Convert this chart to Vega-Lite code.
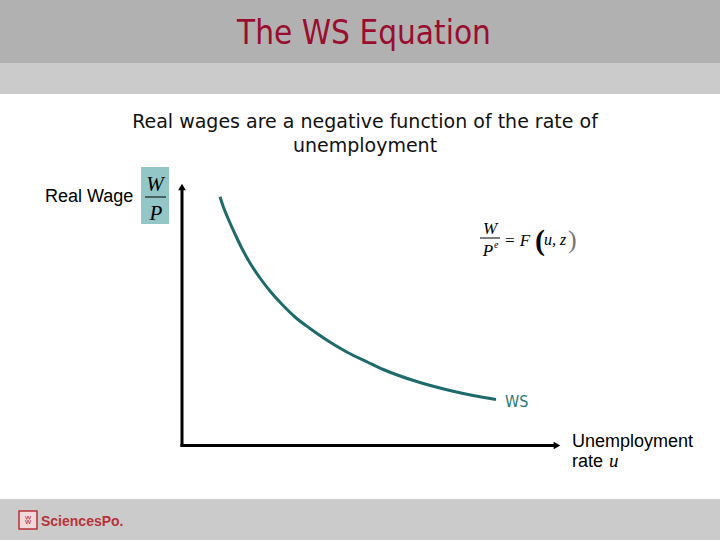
{
  "$schema": "https://vega.github.io/schema/vega-lite/v6.json",
  "width": 720,
  "height": 540,
  "padding": 0,
  "autosize": {"type": "fit", "contains": "padding"},
  "background": "white",
  "config": {"view": {"stroke": null}, "axis": {"disable": true}},
  "data": {"values": [
    {"u": 220, "w": 196.7}, {"u": 223.3, "w": 206.7}, {"u": 228.3, "w": 219},
    {"u": 235, "w": 234}, {"u": 241.7, "w": 248}, {"u": 250, "w": 263},
    {"u": 260, "w": 278}, {"u": 270, "w": 291}, {"u": 281.7, "w": 304},
    {"u": 295, "w": 317}, {"u": 310, "w": 328.5}, {"u": 326.7, "w": 340},
    {"u": 346.7, "w": 352}, {"u": 368.3, "w": 362.5}, {"u": 383.3, "w": 369.5},
    {"u": 416.7, "w": 381.5}, {"u": 450, "w": 390.5}, {"u": 473, "w": 395.5},
    {"u": 496, "w": 399.5}
  ]},
  "layer": [
    {
      "data": {"values": [{}]},
      "mark": {"type": "rect", "fill": "#b1b1b1"},
      "encoding": {
        "x": {"datum": 0, "type": "quantitative", "scale": {"domain": [0, 720], "nice": false, "zero": false}, "axis": null},
        "x2": {"datum": 720},
        "y": {"datum": 0, "type": "quantitative", "scale": {"domain": [0, 540], "nice": false, "zero": false, "reverse": true}, "axis": null},
        "y2": {"datum": 63}
      }
    },
    {
      "data": {"values": [{}]},
      "mark": {"type": "rect", "fill": "#cbcbcb"},
      "encoding": {
        "x": {"datum": 0, "type": "quantitative"}, "x2": {"datum": 720},
        "y": {"datum": 63, "type": "quantitative"}, "y2": {"datum": 94}
      }
    },
    {
      "data": {"values": [{}]},
      "mark": {"type": "rect", "fill": "#cbcbcb"},
      "encoding": {
        "x": {"datum": 0, "type": "quantitative"}, "x2": {"datum": 720},
        "y": {"datum": 499, "type": "quantitative"}, "y2": {"datum": 540}
      }
    },
    {
      "data": {"values": [{}]},
      "mark": {"type": "text", "text": "The WS Equation", "font": "DejaVu Sans Condensed", "fontSize": 33, "fill": "#9b0d2f", "align": "center", "baseline": "alphabetic"},
      "encoding": {"x": {"datum": 364, "type": "quantitative"}, "y": {"datum": 44, "type": "quantitative"}}
    },
    {
      "data": {"values": [{}]},
      "mark": {"type": "text", "text": "Real wages are a negative function of the rate of", "font": "DejaVu Sans", "fontSize": 19, "fill": "#111111", "align": "center", "baseline": "alphabetic"},
      "encoding": {"x": {"datum": 365, "type": "quantitative"}, "y": {"datum": 128, "type": "quantitative"}}
    },
    {
      "data": {"values": [{}]},
      "mark": {"type": "text", "text": "unemployment", "font": "DejaVu Sans", "fontSize": 19, "fill": "#111111", "align": "center", "baseline": "alphabetic"},
      "encoding": {"x": {"datum": 365, "type": "quantitative"}, "y": {"datum": 152, "type": "quantitative"}}
    },
    {
      "data": {"values": [{}]},
      "mark": {"type": "text", "text": "Real Wage", "font": "Liberation Sans", "fontSize": 18, "fill": "#000000", "align": "left", "baseline": "alphabetic"},
      "encoding": {"x": {"datum": 45, "type": "quantitative"}, "y": {"datum": 202, "type": "quantitative"}}
    },
    {
      "data": {"values": [{}]},
      "mark": {"type": "rect", "fill": "#93c6c6"},
      "encoding": {
        "x": {"datum": 141, "type": "quantitative"}, "x2": {"datum": 169},
        "y": {"datum": 167, "type": "quantitative"}, "y2": {"datum": 224}
      }
    },
    {
      "data": {"values": [{}]},
      "mark": {"type": "text", "text": "W", "font": "Liberation Serif", "fontStyle": "italic", "fontSize": 21, "fill": "#000000", "align": "center", "baseline": "alphabetic"},
      "encoding": {"x": {"datum": 155, "type": "quantitative"}, "y": {"datum": 191, "type": "quantitative"}}
    },
    {
      "data": {"values": [{}]},
      "mark": {"type": "rule", "stroke": "#000000", "strokeWidth": 1},
      "encoding": {"x": {"datum": 145, "type": "quantitative"}, "x2": {"datum": 166}, "y": {"datum": 197, "type": "quantitative"}}
    },
    {
      "data": {"values": [{}]},
      "mark": {"type": "text", "text": "P", "font": "Liberation Serif", "fontStyle": "italic", "fontSize": 21, "fill": "#000000", "align": "center", "baseline": "alphabetic"},
      "encoding": {"x": {"datum": 156, "type": "quantitative"}, "y": {"datum": 220, "type": "quantitative"}}
    },
    {
      "data": {"values": [{}]},
      "mark": {"type": "text", "text": "W", "font": "Liberation Serif", "fontStyle": "italic", "fontSize": 17, "fill": "#000000", "align": "center", "baseline": "alphabetic"},
      "encoding": {"x": {"datum": 490, "type": "quantitative"}, "y": {"datum": 234, "type": "quantitative"}}
    },
    {
      "data": {"values": [{}]},
      "mark": {"type": "rule", "stroke": "#000000", "strokeWidth": 1},
      "encoding": {"x": {"datum": 480, "type": "quantitative"}, "x2": {"datum": 500}, "y": {"datum": 238, "type": "quantitative"}}
    },
    {
      "data": {"values": [{}]},
      "mark": {"type": "text", "text": "P", "font": "Liberation Serif", "fontStyle": "italic", "fontSize": 17, "fill": "#000000", "align": "center", "baseline": "alphabetic"},
      "encoding": {"x": {"datum": 488, "type": "quantitative"}, "y": {"datum": 256, "type": "quantitative"}}
    },
    {
      "data": {"values": [{}]},
      "mark": {"type": "text", "text": "e", "font": "Liberation Serif", "fontStyle": "italic", "fontSize": 10, "fill": "#000000", "align": "left", "baseline": "alphabetic"},
      "encoding": {"x": {"datum": 494, "type": "quantitative"}, "y": {"datum": 248, "type": "quantitative"}}
    },
    {
      "data": {"values": [{}]},
      "mark": {"type": "text", "text": "= F", "font": "Liberation Serif", "fontStyle": "italic", "fontSize": 17, "fill": "#000000", "align": "left", "baseline": "alphabetic"},
      "encoding": {"x": {"datum": 504, "type": "quantitative"}, "y": {"datum": 246, "type": "quantitative"}}
    },
    {
      "data": {"values": [{}]},
      "mark": {"type": "text", "text": "(", "font": "Liberation Serif", "fontWeight": "bold", "fontSize": 30, "fill": "#000000", "align": "left", "baseline": "alphabetic"},
      "encoding": {"x": {"datum": 535, "type": "quantitative"}, "y": {"datum": 250, "type": "quantitative"}}
    },
    {
      "data": {"values": [{}]},
      "mark": {"type": "text", "text": "u, z", "font": "Liberation Serif", "fontStyle": "italic", "fontSize": 16, "fill": "#000000", "align": "left", "baseline": "alphabetic"},
      "encoding": {"x": {"datum": 544, "type": "quantitative"}, "y": {"datum": 245, "type": "quantitative"}}
    },
    {
      "data": {"values": [{}]},
      "mark": {"type": "text", "text": ")", "font": "Liberation Serif", "fontSize": 26, "fill": "#777777", "align": "left", "baseline": "alphabetic"},
      "encoding": {"x": {"datum": 568, "type": "quantitative"}, "y": {"datum": 248, "type": "quantitative"}}
    },
    {
      "mark": {"type": "line", "stroke": "#1f6b6b", "strokeWidth": 3, "interpolate": "monotone"},
      "encoding": {
        "x": {"field": "u", "type": "quantitative", "axis": null},
        "y": {"field": "w", "type": "quantitative", "axis": null}
      }
    },
    {
      "data": {"values": [{}]},
      "mark": {"type": "text", "text": "WS", "font": "DejaVu Sans Condensed", "fontSize": 16, "fill": "#2a7878", "align": "left", "baseline": "alphabetic"},
      "encoding": {"x": {"datum": 505, "type": "quantitative"}, "y": {"datum": 407, "type": "quantitative"}}
    },
    {
      "data": {"values": [{}]},
      "mark": {"type": "rule", "stroke": "#000000", "strokeWidth": 3},
      "encoding": {"x": {"datum": 182, "type": "quantitative"}, "y": {"datum": 188, "type": "quantitative"}, "y2": {"datum": 447}}
    },
    {
      "data": {"values": [{}]},
      "mark": {"type": "rule", "stroke": "#000000", "strokeWidth": 3},
      "encoding": {"x": {"datum": 180.5, "type": "quantitative"}, "x2": {"datum": 556}, "y": {"datum": 445.5, "type": "quantitative"}}
    },
    {
      "data": {"values": [{}]},
      "mark": {"type": "point", "shape": "triangle-up", "filled": true, "fill": "#000000", "stroke": null, "size": 60, "opacity": 1},
      "encoding": {"x": {"datum": 182, "type": "quantitative"}, "y": {"datum": 187, "type": "quantitative"}}
    },
    {
      "data": {"values": [{}]},
      "mark": {"type": "point", "shape": "triangle-right", "filled": true, "fill": "#000000", "stroke": null, "size": 60, "opacity": 1},
      "encoding": {"x": {"datum": 557, "type": "quantitative"}, "y": {"datum": 445.5, "type": "quantitative"}}
    },
    {
      "data": {"values": [{}]},
      "mark": {"type": "text", "text": "Unemployment", "font": "Liberation Sans", "fontSize": 18, "fill": "#000000", "align": "left", "baseline": "alphabetic"},
      "encoding": {"x": {"datum": 572, "type": "quantitative"}, "y": {"datum": 447, "type": "quantitative"}}
    },
    {
      "data": {"values": [{}]},
      "mark": {"type": "text", "text": "rate", "font": "Liberation Sans", "fontSize": 18, "fill": "#000000", "align": "left", "baseline": "alphabetic"},
      "encoding": {"x": {"datum": 572, "type": "quantitative"}, "y": {"datum": 467, "type": "quantitative"}}
    },
    {
      "data": {"values": [{}]},
      "mark": {"type": "text", "text": "u", "font": "Liberation Serif", "fontStyle": "italic", "fontSize": 19, "fill": "#000000", "align": "left", "baseline": "alphabetic"},
      "encoding": {"x": {"datum": 609, "type": "quantitative"}, "y": {"datum": 467, "type": "quantitative"}}
    },
    {
      "data": {"values": [{}]},
      "mark": {"type": "rect", "fill": "#f3d9d9", "stroke": "#b7323a", "strokeWidth": 1.5},
      "encoding": {
        "x": {"datum": 19, "type": "quantitative"}, "x2": {"datum": 37},
        "y": {"datum": 511, "type": "quantitative"}, "y2": {"datum": 529}
      }
    },
    {
      "data": {"values": [{}]},
      "mark": {"type": "text", "text": "ʬ", "font": "DejaVu Sans", "fontSize": 13, "fill": "#b7323a", "align": "center", "baseline": "middle"},
      "encoding": {"x": {"datum": 28, "type": "quantitative"}, "y": {"datum": 520, "type": "quantitative"}}
    },
    {
      "data": {"values": [{}]},
      "mark": {"type": "text", "text": "SciencesPo.", "font": "Liberation Sans", "fontWeight": "bold", "fontSize": 14, "fill": "#b7323a", "align": "left", "baseline": "alphabetic"},
      "encoding": {"x": {"datum": 41, "type": "quantitative"}, "y": {"datum": 526, "type": "quantitative"}}
    }
  ]
}
